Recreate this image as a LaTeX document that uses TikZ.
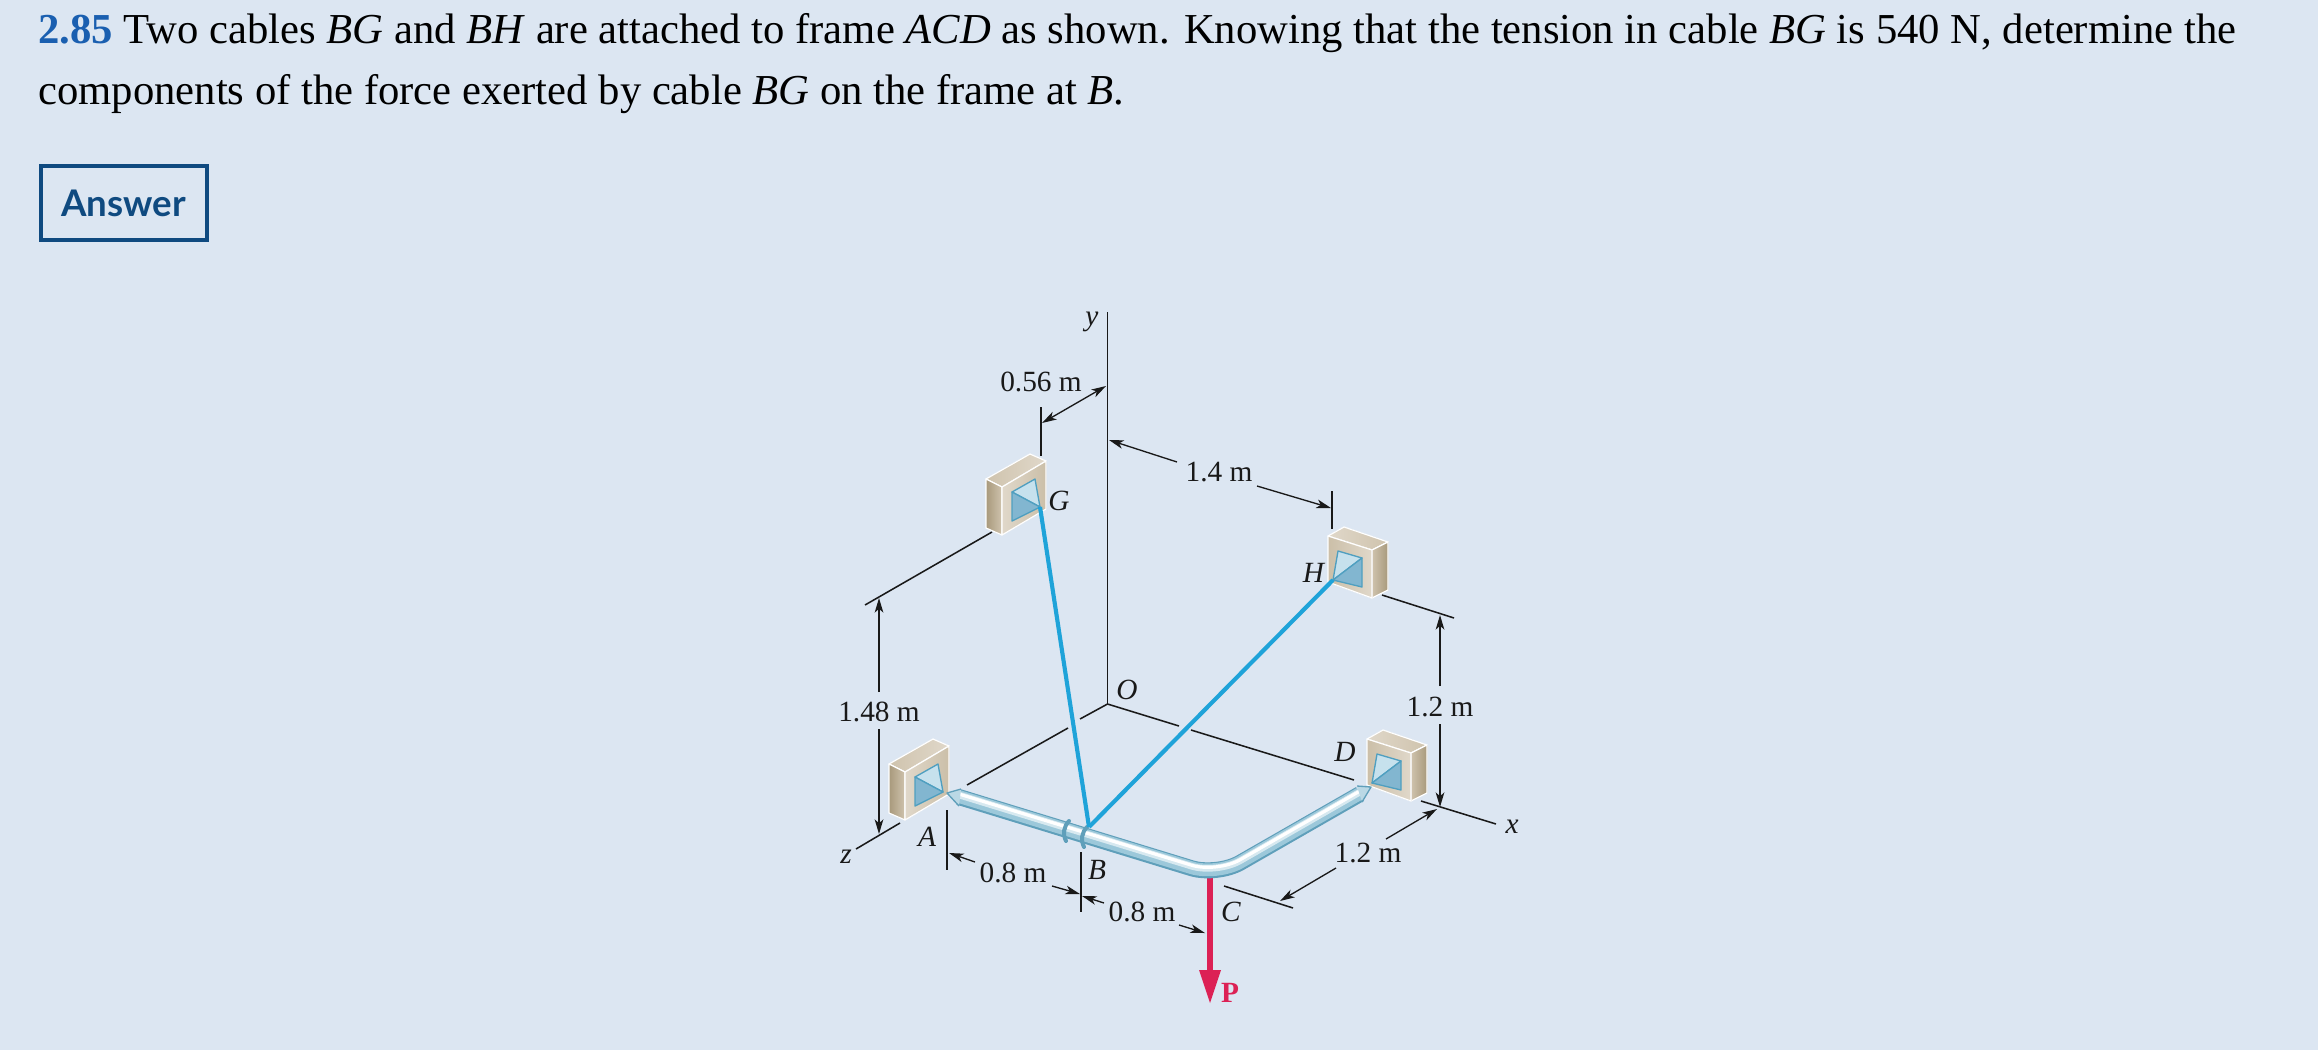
\documentclass[tikz,border=0pt]{standalone}
\usepackage{fontspec}
\setmainfont{Liberation Serif}
\newfontfamily\answerfont{Lato}
\usetikzlibrary{arrows.meta}
\definecolor{pagebg}{HTML}{DCE6F2}
\definecolor{numblue}{HTML}{1A5FB0}
\definecolor{boxblue}{HTML}{0F4A80}
\definecolor{cableblue}{HTML}{1FA3D9}
\definecolor{forcered}{HTML}{DC2155}
\definecolor{plateedge}{HTML}{4F9FC0}
\definecolor{platelight}{HTML}{C6E1ED}
\definecolor{platedark}{HTML}{82B6D0}
\definecolor{pipeedge}{HTML}{5F9FBA}
\definecolor{pipemid}{HTML}{9CC8DA}
\definecolor{tanlight}{HTML}{E0D8CA}
\definecolor{tanmid}{HTML}{CFC3AD}
\definecolor{tandark}{HTML}{A8997C}
\tikzset{
  dimline/.style={line width=1pt,color=black!90},
  axisline/.style={line width=1.15pt,color=black!90},
  cable/.style={line width=3.1pt,color=cableblue},
  lbl/.style={font=\fontsize{22}{22}\selectfont,inner sep=0pt,text=black!90},
  blockedge/.style={draw=white,line width=0.9pt,line join=round},
  plate/.style={draw=plateedge,line width=1pt,line join=round},
}
% wall block seen from the left, its origin is the top corner of the front face
\newcommand{\leftblock}[1]{
  \begin{scope}[shift={#1}]
    \fill[blockedge,left color=tanmid,right color=tanlight] (-16,-8) -- (28,-33) -- (44,-26) -- (0,0) -- cycle;
    \fill[blockedge,left color=tandark,right color=tanmid] (-16,-8) -- (0,0) -- (0,48) -- (-16,41) -- cycle;
    \fill[blockedge,left color=tanlight,right color=tanmid!90!tandark] (0,0) -- (44,-26) -- (44,22) -- (0,48) -- cycle;
    \filldraw[plate,fill=platelight] (10,5) -- (33,-8) -- (38,20) -- cycle;
    \filldraw[plate,fill=platedark] (10,5) -- (38,20) -- (10,34) -- cycle;
  \end{scope}
}
% same block seen from the right
\newcommand{\rightblock}[1]{
  \begin{scope}[shift={#1}]
    \fill[blockedge,left color=tanlight,right color=tanmid] (0,0) -- (16,-9) -- (60,6) -- (44,14) -- cycle;
    \fill[blockedge,left color=tanmid,right color=tandark] (44,14) -- (60,6) -- (60,54) -- (44,62) -- cycle;
    \fill[blockedge,left color=tanmid!90!tandark,right color=tanlight] (0,0) -- (44,14) -- (44,62) -- (0,46) -- cycle;
    \filldraw[plate,fill=platelight] (10,15) -- (34,22) -- (5,44) -- cycle;
    \filldraw[plate,fill=platedark] (34,22) -- (34,51) -- (5,44) -- cycle;
  \end{scope}
}
\begin{document}
\begin{tikzpicture}[x=0.75pt,y=-0.75pt,>={Stealth[length=11pt,width=6.5pt,inset=3pt]}]
  \useasboundingbox[fill=pagebg] (0,0) rectangle (2318,1050);
  % text
  \node[anchor=base west,inner sep=0pt,font=\fontsize{32}{32}\selectfont] (line1) at (38,43)
    {\textcolor{numblue}{\textbf{2.85}} Two cables \textit{BG} and \textit{BH} are attached to frame \textit{ACD} as shown. Knowing that the tension in cable \textit{BG} is 540 N, determine the};
  \node[anchor=base west,inner sep=0pt,font=\fontsize{32}{32}\selectfont] (line2) at (38,104)
    {components of the force exerted by cable \textit{BG} on the frame at \textit{B}.};
  \node[draw=boxblue,line width=3pt,minimum width=166*0.75pt,minimum height=74*0.75pt,text=boxblue,font=\answerfont\bfseries\fontsize{27.5}{27.5}\selectfont] (answer) at (123.5,203) {Answer};
  % points
  \coordinate (O) at (1107.5,704);
  \coordinate (A) at (947,793);
  \coordinate (B) at (1089,827);
  \coordinate (C) at (1210,872);
  \coordinate (D) at (1371,787);
  \coordinate (G) at (1040,507);
  \coordinate (H) at (1333,580);
  \coordinate (yend) at (1107.5,312);
  \coordinate (xend) at (1496,824);
  \coordinate (zend) at (856,849);
  \coordinate (Ptip) at (1210,1003);
  % axes
  \draw[axisline] (O) -- (yend);
  \draw[axisline] (O) -- (1179,726) (1191,730) -- (1354,780) (1421,801) -- (xend);
  \draw[axisline] (O) -- (1080,719) (1068,728) -- (967,785) (900,823) -- (zend);
  % extension lines
  \draw[axisline] (992,532) -- (865,605);
  \draw[axisline] (1382,595) -- (1454,618);
  \draw[dimline] (1041,407) -- (1041,456);
  \draw[dimline] (1332,491) -- (1332,529);
  \draw[dimline] (947,810) -- (947,870);
  \draw[dimline] (1081,852) -- (1081,912);
  \draw[axisline] (1224,886) -- (1293,908);
  % dimensions
  \draw[dimline,<->] (1042,423) -- (1106,386);
  \draw[dimline,->] (1177,462) -- (1109,440);
  \draw[dimline,->] (1257,486) -- (1331,508);
  \draw[dimline,->] (879,692) -- (879,598);
  \draw[dimline,->] (879,729) -- (879,834);
  \draw[dimline,->] (1440,686) -- (1440,615);
  \draw[dimline,->] (1440,724) -- (1440,807);
  \draw[dimline,->] (975,862) -- (949,853);
  \draw[dimline,->] (1052,886) -- (1080,894);
  \draw[dimline,->] (1104,903) -- (1082,896);
  \draw[dimline,->] (1179,925) -- (1205,933);
  \draw[dimline,->] (1336,868) -- (1280,901);
  \draw[dimline,->] (1386,839) -- (1437,809);
  % wall blocks
  \leftblock{(1002,487)}
  \leftblock{(905,772)}
  \rightblock{(1328,536)}
  \rightblock{(1367,739)}
  % force
  \draw[line width=5.2pt,color=forcered] (C) -- (1210,972);
  \fill[forcered] (Ptip) -- (1199,970) -- (1221,970) -- cycle;
  % frame
  \draw[line width=12pt,color=pipeedge,rounded corners=20pt] (959,797) -- (1217,876) -- (1360,794);
  \draw[line width=9.6pt,color=pipemid,rounded corners=20pt] (959,796.5) -- (1217,875.5) -- (1360,793.5);
  \draw[line width=5pt,color=pipemid!40!white,rounded corners=20pt] (959,795) -- (1217,874) -- (1360,792);
  \draw[line width=2.4pt,color=white,rounded corners=20pt] (959,794) -- (1217,873) -- (1360,791);
  \fill[pipemid!70!white] (A) -- (961,789.5) -- (959,805.5) -- cycle;
  \fill[pipemid!70!white] (D) -- (1357,786.5) -- (1362,801.5) -- cycle;
  \draw[color=pipeedge,line width=1pt,line join=round] (961,789) -- (A) -- (959,806);
  \draw[color=pipeedge,line width=1pt,line join=round] (1357,786) -- (D) -- (1362,802);
  % collars
  \draw[line width=3pt,color=pipeedge,line cap=round] (1069,821) to[bend right=35] (1066,841);
  \draw[line width=3pt,color=pipeedge,line cap=round] (1087,827) to[bend right=35] (1084,847);
  % cables
  \draw[cable] (G) -- (B);
  \draw[cable] (H) -- (B);
  % labels
  \node[lbl] (laby) at (1092,322) {\textit{y}};
  \node[lbl] (labx) at (1512,827) {\textit{x}};
  \node[lbl] (labz) at (846,857) {\textit{z}};
  \node[lbl] (labO) at (1127,690) {\textit{O}};
  \node[lbl] (labA) at (927,837) {\textit{A}};
  \node[lbl] (labB) at (1097,870) {\textit{B}};
  \node[lbl] (labC) at (1231,912) {\textit{C}};
  \node[lbl] (labD) at (1345,752) {\textit{D}};
  \node[lbl] (labG) at (1059,501) {\textit{G}};
  \node[lbl] (labH) at (1314,573) {\textit{H}};
  \node[lbl,text=forcered] (labP) at (1230,993) {\textbf{P}};
  \node[lbl] (d056) at (1041,382) {0.56 m};
  \node[lbl] (d14) at (1219,472) {1.4 m};
  \node[lbl] (d148) at (879,712) {1.48 m};
  \node[lbl] (d12a) at (1440,707) {1.2 m};
  \node[lbl] (d12b) at (1368,853) {1.2 m};
  \node[lbl] (d08a) at (1013,873) {0.8 m};
  \node[lbl] (d08b) at (1142,912) {0.8 m};
\end{tikzpicture}
\end{document}
